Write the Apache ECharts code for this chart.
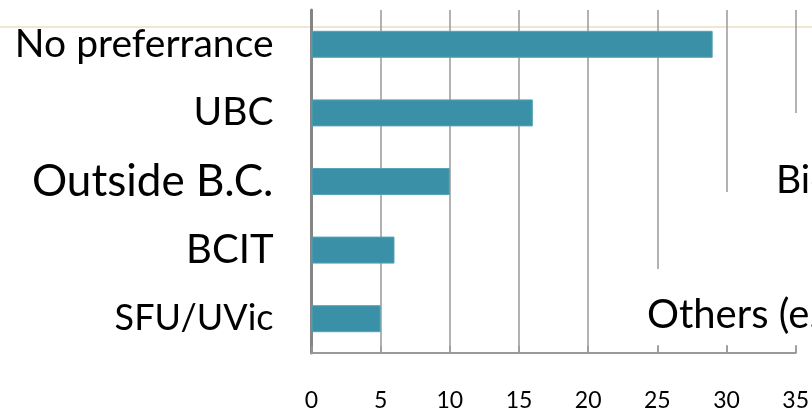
<!DOCTYPE html>
<html><head><meta charset="utf-8">
<script src="https://cdn.jsdelivr.net/npm/echarts@6/dist/echarts.min.js"></script>
<style>html,body{margin:0;padding:0;background:#fff}#c{width:812px;height:413px}</style>
</head><body><div id="c"></div>
<script>
var categories = ['No preferrance', 'UBC', 'Outside B.C.', 'BCIT', 'SFU/UVic'];
var values = [29, 16, 10, 6, 5];
var tickLabels = ['0', '5', '10', '15', '20', '25', '30', '35'];
var overlayTexts = ['Biology', 'Others (e.g.'];

var FONT = 'Lato';
var chart = echarts.init(document.getElementById('c'), null, {renderer: 'canvas'});
var sizes = {'No preferrance': 39, 'UBC': 39, 'Outside B.C.': 44, 'BCIT': 40, 'SFU/UVic': 36};
var rich = {};
categories.forEach(function (c, i) { rich['s' + i] = {fontSize: sizes[c], fontFamily: FONT, color: '#000'}; });

chart.setOption({
  animation: false,
  grid: {left: 311.5, right: 16, top: 10, bottom: 60, containLabel: false},
  xAxis: {
    type: 'value', min: 0, max: 35, interval: 5,
    axisLine: {show: true, lineStyle: {color: '#999', width: 2}},
    axisTick: {show: true, inside: true, length: 7, lineStyle: {color: '#999', width: 1.5}},
    splitLine: {show: true, lineStyle: {color: '#999', width: 1.5}},
    axisLabel: {fontSize: 23, fontFamily: FONT, color: '#000', margin: 36,
      formatter: function (v) { return tickLabels[Math.round(v / 5)]; }}
  },
  yAxis: {
    type: 'category', inverse: true, data: categories,
    axisLine: {show: true, lineStyle: {color: '#858585', width: 3}},
    axisTick: {show: false},
    axisLabel: {margin: 38, rich: rich,
      formatter: function (v) { var i = categories.indexOf(v); return '{s' + i + '|' + v + '}'; }}
  },
  series: [{
    type: 'bar', data: values, barWidth: 27,
    itemStyle: {color: '#3A91A7', borderColor: '#54a3b6', borderWidth: 1}
  }],
  graphic: [
    {type: 'line', shape: {x1: 0, y1: 27, x2: 812, y2: 27}, style: {stroke: '#eadfc6', lineWidth: 1.5}, z: 0},
    {type: 'rect', shape: {x: 792, y: 113, width: 20, height: 232}, style: {fill: '#fff'}, z: 5},
    {type: 'rect', shape: {x: 722, y: 192, width: 90, height: 153}, style: {fill: '#fff'}, z: 5},
    {type: 'rect', shape: {x: 652, y: 269, width: 160, height: 76}, style: {fill: '#fff'}, z: 5},
    {type: 'text', x: 776, y: 200, style: {text: overlayTexts[0], font: '39px ' + FONT, fill: '#000', textVerticalAlign: 'bottom'}, z: 6},
    {type: 'text', x: 647, y: 335, style: {text: overlayTexts[1], font: '40px ' + FONT, fill: '#000', textVerticalAlign: 'bottom'}, z: 6}
  ]
});
</script></body></html>
